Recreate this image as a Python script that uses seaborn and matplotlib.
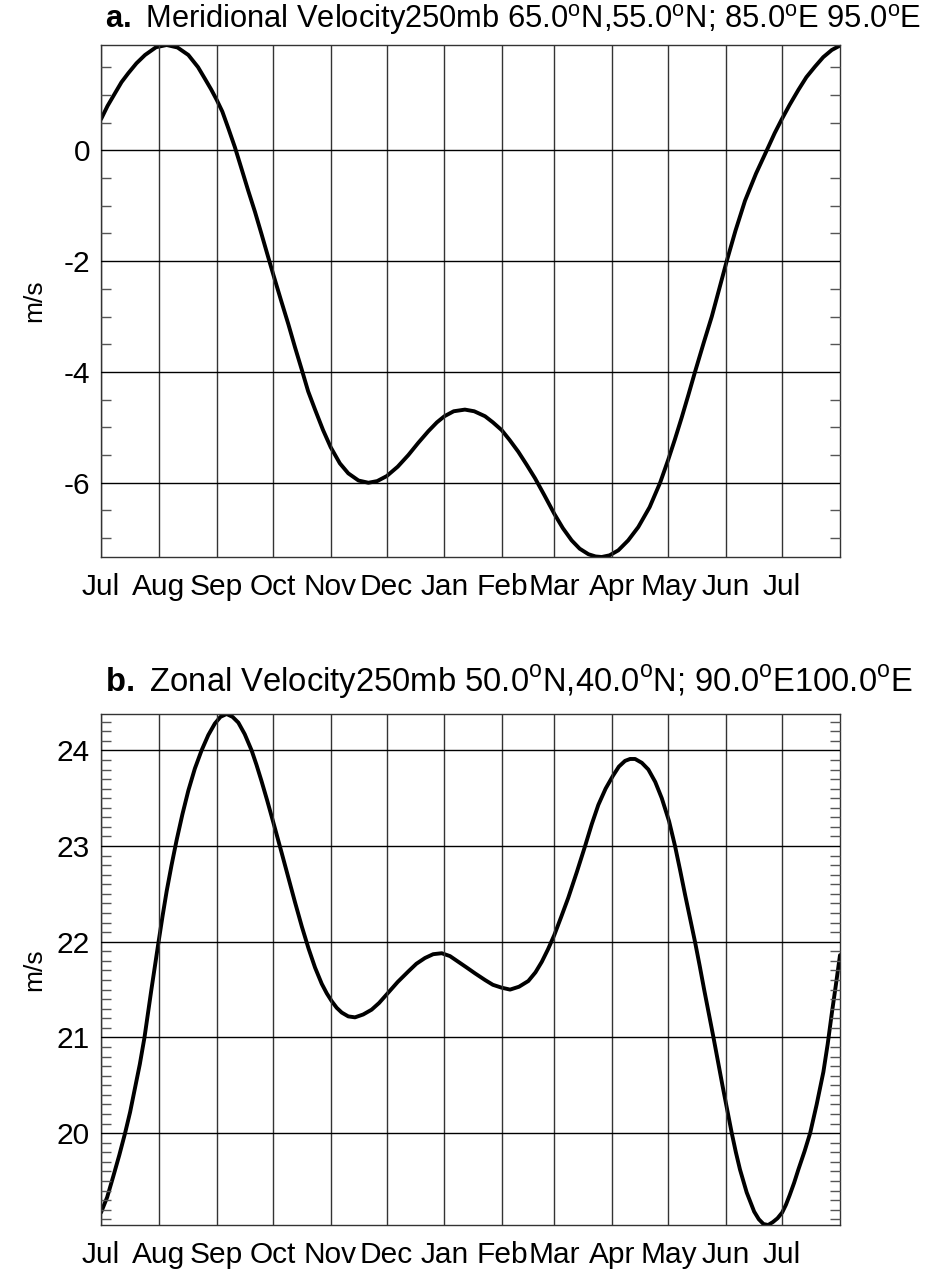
import matplotlib
matplotlib.use("Agg")
import matplotlib.pyplot as plt
import numpy as np
import pandas as pd
import seaborn as sns
from matplotlib.ticker import MultipleLocator

# Month starts (days since 1 July) and their labels
month_labels = ["Jul", "Aug", "Sep", "Oct", "Nov", "Dec", "Jan",
                "Feb", "Mar", "Apr", "May", "Jun", "Jul"]
month_start_days = [0, 31, 62, 92, 123, 153, 184, 215, 243, 274, 304, 335, 365]
x_end_day = 396

# Panel a: meridional velocity at 250 mb (m/s)
mer_days = [0, 3.5, 7.5, 11, 14.6, 19, 23.6, 29.5, 35.2, 41, 46.8, 52, 55.7,
            59, 62, 65, 68.2, 71.8, 75, 78.9, 82.5, 86, 89, 92.3, 96.4,
            100.4, 104, 107.5, 111, 114.7, 119, 123.1, 128, 132.5, 138,
            143.3, 148, 153.1, 159, 164.7, 170, 175.4, 180, 184, 189, 195,
            200, 205.8, 210, 214.7, 219, 223.6, 228, 232.6, 237.5, 242.9,
            247.5, 252.2, 256.5, 261.2, 265, 268.3, 272.5, 277.2, 282.5,
            287.9, 294, 299.6, 304, 307.5, 311.2, 314.8, 318.3, 323, 327.3,
            331.3, 335.3, 340, 345.1, 351, 357.6, 361, 364.8, 369, 373.7,
            378, 382.6, 387, 391.6, 396]
mer_vals = [0.56, 0.80, 1.03, 1.23, 1.39, 1.57, 1.72, 1.86, 1.90, 1.855,
            1.72, 1.50, 1.29, 1.10, 0.91, 0.70, 0.40, 0.05, -0.30, -0.73,
            -1.11, -1.51, -1.86, -2.24, -2.70, -3.14, -3.56, -3.95, -4.35,
            -4.68, -5.05, -5.36, -5.65, -5.83, -5.96, -6.0, -5.97, -5.88,
            -5.71, -5.50, -5.28, -5.07, -4.91, -4.80, -4.71, -4.68, -4.71,
            -4.80, -4.91, -5.05, -5.23, -5.44, -5.67, -5.92, -6.22, -6.56,
            -6.82, -7.04, -7.19, -7.29, -7.33, -7.34, -7.31, -7.22, -7.04,
            -6.80, -6.44, -6.0, -5.58, -5.22, -4.82, -4.41, -4.0, -3.47,
            -3.0, -2.5, -2.0, -1.45, -0.91, -0.42, 0.06, 0.31, 0.56, 0.82,
            1.09, 1.32, 1.51, 1.68, 1.81, 1.89]

# Panel b: zonal velocity at 250 mb (m/s)
zon_days = [0, 3.3, 6.6, 9.8, 12.9, 15.6, 18.2, 20.8, 23.3, 27, 30.7, 33,
            35.2, 37.8, 40.5, 43.6, 46.8, 50.3, 53.9, 57.5, 61, 64, 67.3,
            70.5, 73.6, 77, 80.7, 83.3, 86, 89, 92.3, 96.8, 100.4, 104,
            107.6, 111.2, 114.7, 118.3, 121, 123.6, 126.3, 129, 132.5, 136.1,
            140.5, 145, 149, 153.1, 159, 164.7, 169, 173.6, 178, 182.6, 187,
            191.5, 196, 200.4, 205.8, 210, 214.7, 219.2, 224, 229, 232.8,
            236.2, 239.5, 242.9, 246.6, 250.4, 255, 259.4, 263, 266.5, 270.4,
            274.2, 277.5, 280.8, 283.5, 286.2, 289.8, 293.3, 297, 300.5,
            304.4, 307.6, 310.3, 313, 315.7, 318.3, 320.8, 323.2, 325.7,
            328.2, 330.6, 333, 335.5, 338, 340.2, 342.4, 346, 350, 352.5,
            355, 357.5, 360, 362.5, 365, 367, 369, 371.4, 373.7, 377, 380,
            383.5, 387.1, 389.4, 391.6, 393.8, 396]
zon_vals = [19.17, 19.33, 19.55, 19.77, 20.0, 20.22, 20.47, 20.72, 21.0,
            21.5, 21.98, 22.27, 22.53, 22.80, 23.06, 23.33, 23.58, 23.81,
            24.0, 24.16, 24.28, 24.35, 24.38, 24.35, 24.29, 24.17, 24.0,
            23.85, 23.68, 23.48, 23.25, 22.93, 22.67, 22.41, 22.16, 21.93,
            21.73, 21.56, 21.46, 21.38, 21.31, 21.26, 21.22, 21.21, 21.24,
            21.29, 21.36, 21.45, 21.58, 21.69, 21.77, 21.83, 21.87, 21.88,
            21.85, 21.79, 21.73, 21.67, 21.60, 21.55, 21.52, 21.50, 21.53,
            21.59, 21.68, 21.79, 21.92, 22.07, 22.26, 22.46, 22.73, 23.0,
            23.23, 23.43, 23.60, 23.73, 23.83, 23.89, 23.91, 23.91, 23.87,
            23.80, 23.67, 23.50, 23.26, 23.0, 22.75, 22.49, 22.24, 22.0,
            21.75, 21.5, 21.25, 21.0, 20.75, 20.5, 20.25, 20.0, 19.80,
            19.62, 19.38, 19.18, 19.10, 19.05, 19.04, 19.07, 19.11, 19.17,
            19.25, 19.35, 19.48, 19.62, 19.81, 20.0, 20.30, 20.64, 20.93,
            21.25, 21.55, 21.86]

mer_major = [-6, -4, -2, 0]
zon_major = [20, 21, 22, 23, 24]

title_a = (r"$\mathbf{a.}$ Meridional Velocity250mb 65.0$^{\mathrm{o}}$N,55.0$^{\mathrm{o}}$N;"
           r" 85.0$^{\mathrm{o}}$E 95.0$^{\mathrm{o}}$E")
title_b = (r"$\mathbf{b.}$ Zonal Velocity250mb 50.0$^{\mathrm{o}}$N,40.0$^{\mathrm{o}}$N;"
           r" 90.0$^{\mathrm{o}}$E100.0$^{\mathrm{o}}$E")

sns.set_style("white")
plt.rcParams["font.family"] = ["Liberation Sans", "DejaVu Sans"]
plt.rcParams["mathtext.fontset"] = "custom"
plt.rcParams["mathtext.rm"] = "Liberation Sans"
plt.rcParams["mathtext.bf"] = "Liberation Sans:bold"
plt.rcParams["axes.unicode_minus"] = False
plt.rcParams["text.color"] = "black"
plt.rcParams["axes.labelcolor"] = "black"

W, H = 934, 1274
fig = plt.figure(figsize=(W / 100, H / 100), dpi=100)
ax_a = fig.add_axes([101 / W, 1 - 557 / H, 739 / W, 512 / H])
ax_b = fig.add_axes([101 / W, 1 - 1225 / H, 739 / W, 511 / H])


def draw_panel(ax, days, vals, major, minor_step, title, title_size,
               title_base_px):
    df = pd.DataFrame({"day": days, "value": vals})
    sns.lineplot(data=df, x="day", y="value", ax=ax, color="black",
                 linewidth=2.8, sort=False, estimator=None)
    ax.set_xlim(0, x_end_day)
    ax.set_ylim(min(vals), max(vals))

    ax.set_xticks(month_start_days)
    ax.set_xticklabels(month_labels)
    ax.set_yticks(major)
    ax.set_yticklabels([f"{v:g}" for v in major])
    ax.yaxis.set_minor_locator(MultipleLocator(minor_step))

    ax.tick_params(axis="x", length=0, pad=11.5, labelsize=21.5,
                   labelcolor="black")
    ax.tick_params(axis="y", which="major", length=0, pad=8, labelsize=21.5,
                   labelcolor="black")
    ax.tick_params(axis="y", which="minor", direction="in", length=7.5,
                   width=1.0, color="#555555", left=True, right=True)

    ax.xaxis.grid(True, color="#333333", linewidth=1.0)
    ax.yaxis.grid(True, color="black", linewidth=1.0)
    ax.set_axisbelow(False)
    for sp in ax.spines.values():
        sp.set_color("#333333")
        sp.set_linewidth(1.0)

    ax.set_xlabel("")
    ax.set_ylabel("m/s", fontsize=19)
    ax.yaxis.set_label_coords(-0.074, 0.5)

    fig.text(105 / W, 1 - title_base_px / H, title, fontsize=title_size,
             ha="left", va="baseline")


draw_panel(ax_a, mer_days, mer_vals, mer_major, 0.5, title_a, 22.2, 28)
draw_panel(ax_b, zon_days, zon_vals, zon_major, 0.1, title_b, 23.6, 692)

fig.savefig("out.png", dpi=100)
